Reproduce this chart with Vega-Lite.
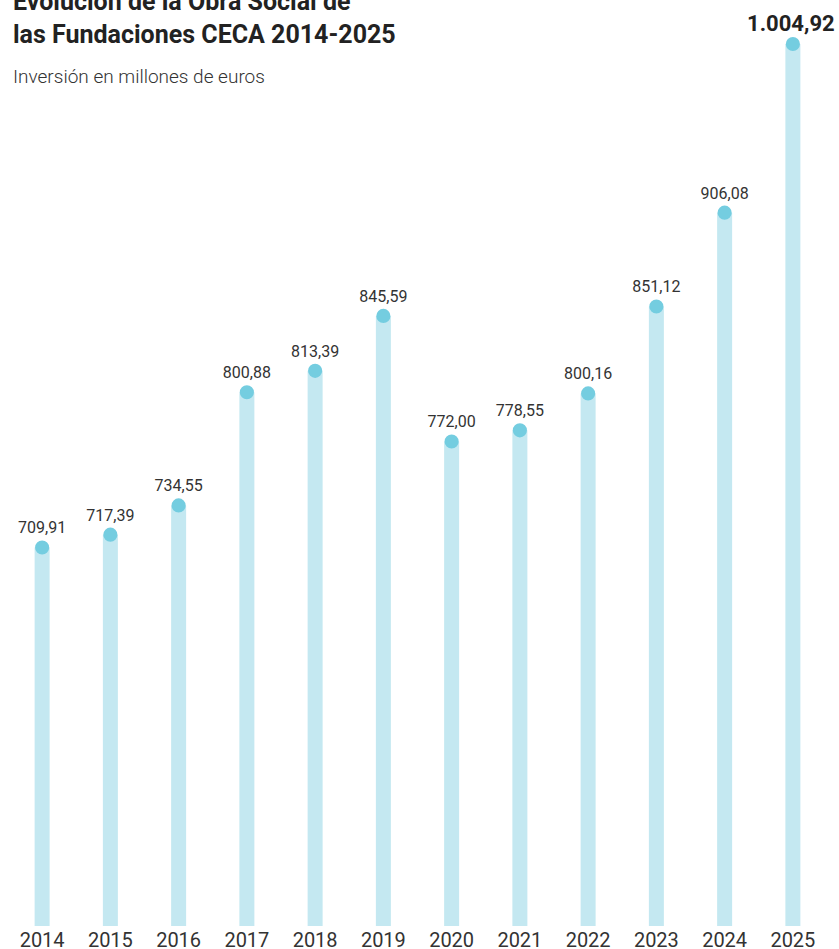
{
  "$schema": "https://vega.github.io/schema/vega-lite/v6.json",
  "width": 819,
  "height": 882,
  "autosize": "none",
  "padding": {"left": 8, "top": 44, "right": 12, "bottom": 23},
  "background": "white",
  "config": {
    "view": {"stroke": null},
    "font": "Roboto",
    "locale": {"number": {"decimal": ",", "thousands": ".", "grouping": [3], "currency": ["", " €"]}}
  },
  "title": {
    "text": ["Evolución de la Obra Social de", "las Fundaciones CECA 2014-2025"],
    "subtitle": "Inversión en millones de euros",
    "anchor": "start",
    "frame": "group",
    "orient": "top",
    "offset": -74,
    "dx": 5,
    "font": "Roboto",
    "fontSize": 25,
    "fontWeight": "bold",
    "lineHeight": 33,
    "color": "#222222",
    "subtitleFont": "Roboto",
    "subtitleFontSize": 19,
    "subtitleFontWeight": 300,
    "subtitleColor": "#333333",
    "subtitlePadding": 20
  },
  "data": {
    "values": [
      {"year": "2014", "value": 709.91},
      {"year": "2015", "value": 717.39},
      {"year": "2016", "value": 734.55},
      {"year": "2017", "value": 800.88},
      {"year": "2018", "value": 813.39},
      {"year": "2019", "value": 845.59},
      {"year": "2020", "value": 772.00},
      {"year": "2021", "value": 778.55},
      {"year": "2022", "value": 800.16},
      {"year": "2023", "value": 851.12},
      {"year": "2024", "value": 906.08},
      {"year": "2025", "value": 1004.92}
    ]
  },
  "encoding": {
    "x": {
      "field": "year",
      "type": "ordinal",
      "scale": {"paddingInner": 0, "paddingOuter": 0},
      "axis": {
        "title": null,
        "labelAngle": 0,
        "domain": false,
        "ticks": false,
        "labelFontSize": 20,
        "labelColor": "#333333",
        "labelFont": "Roboto",
        "labelPadding": 4
      }
    },
    "y": {
      "field": "value",
      "type": "quantitative",
      "scale": {"domain": [488.1, 1004.92], "zero": false, "nice": false},
      "axis": null
    }
  },
  "layer": [
    {
      "mark": {"type": "bar", "width": 15, "color": "#c4e8f1"},
      "encoding": {"y2": {"datum": 488.1}}
    },
    {"mark": {"type": "point", "filled": true, "size": 200, "color": "#74cde0", "opacity": 1}},
    {
      "transform": [{"filter": "datum.year != '2025'"}],
      "mark": {"type": "text", "fontSize": 16, "color": "#333333", "dy": -14, "baseline": "alphabetic"},
      "encoding": {"text": {"field": "value", "type": "quantitative", "format": ",.2f"}}
    },
    {
      "transform": [{"filter": "datum.year == '2025'"}],
      "mark": {"type": "text", "fontSize": 22, "fontWeight": "bold", "color": "#222222", "dy": -13, "dx": -2, "baseline": "alphabetic"},
      "encoding": {"text": {"field": "value", "type": "quantitative", "format": ",.2f"}}
    }
  ]
}
